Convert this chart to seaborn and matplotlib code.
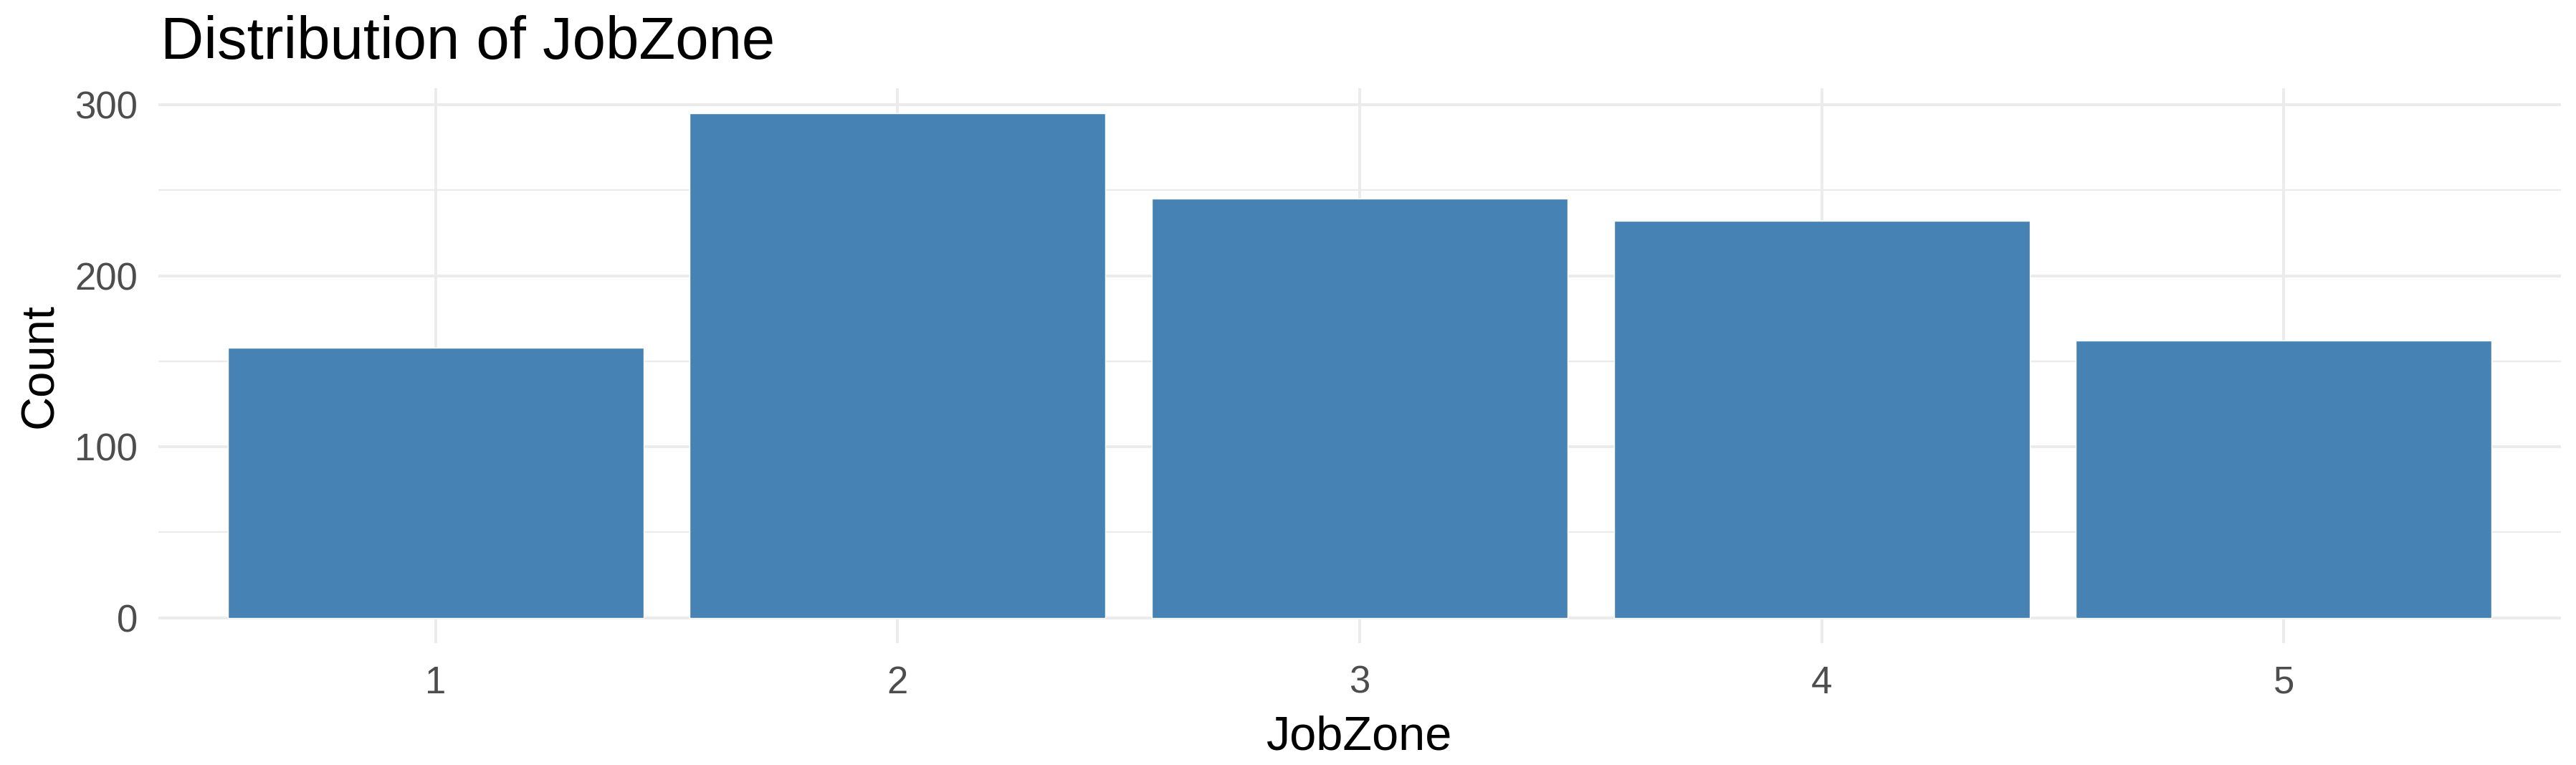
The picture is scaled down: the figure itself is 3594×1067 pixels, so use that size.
import matplotlib
matplotlib.use("Agg")
import matplotlib.pyplot as plt
import seaborn as sns
import pandas as pd
from matplotlib.ticker import MultipleLocator

categories = ["1", "2", "3", "4", "5"]
counts = [158, 295, 245, 232, 162]

df = pd.DataFrame({"JobZone": categories, "Count": counts})

sns.set_theme(style="white")
plt.rcParams["font.family"] = ["Liberation Sans", "DejaVu Sans"]

W, H = 3594, 1067
fig = plt.figure(figsize=(W / 100, H / 100), dpi=100)
left, right = 221 / W, 3573 / W
bottom, top = 1 - 897 / H, 1 - 122.6 / H
ax = fig.add_axes([left, bottom, right - left, top - bottom])

sns.barplot(data=df, x="JobZone", y="Count", color="#4682B4", width=0.9,
            saturation=1, ax=ax, zorder=3)

ax.set_xlim(-0.6, 4.6)
ax.set_ylim(-0.05 * 295, 295 * 1.05)
ax.yaxis.set_major_locator(MultipleLocator(100))
ax.yaxis.set_minor_locator(MultipleLocator(50))
ax.grid(True, which="major", axis="both", color="#EBEBEB", linewidth=2.8, zorder=0)
ax.grid(True, which="minor", axis="y", color="#EBEBEB", linewidth=1.6, zorder=0)
ax.set_axisbelow(True)
for s in ax.spines.values():
    s.set_visible(False)
ax.tick_params(axis="both", which="both", length=0, labelsize=38,
               labelcolor="#4D4D4D")
ax.tick_params(axis="x", pad=22)
ax.tick_params(axis="y", pad=21)
ax.set_xlabel("JobZone", fontsize=48, color="black")
ax.set_ylabel("Count", fontsize=47, color="black")
ax.xaxis.set_label_coords(0.4996, -0.1304)
ax.yaxis.set_label_coords(-0.0403, 0.5)
fig.text(224 / W, 1 - 82 / H, "Distribution of JobZone", fontsize=60,
         color="black", ha="left", va="baseline")

fig.savefig("out.png", dpi=100, facecolor="white")
